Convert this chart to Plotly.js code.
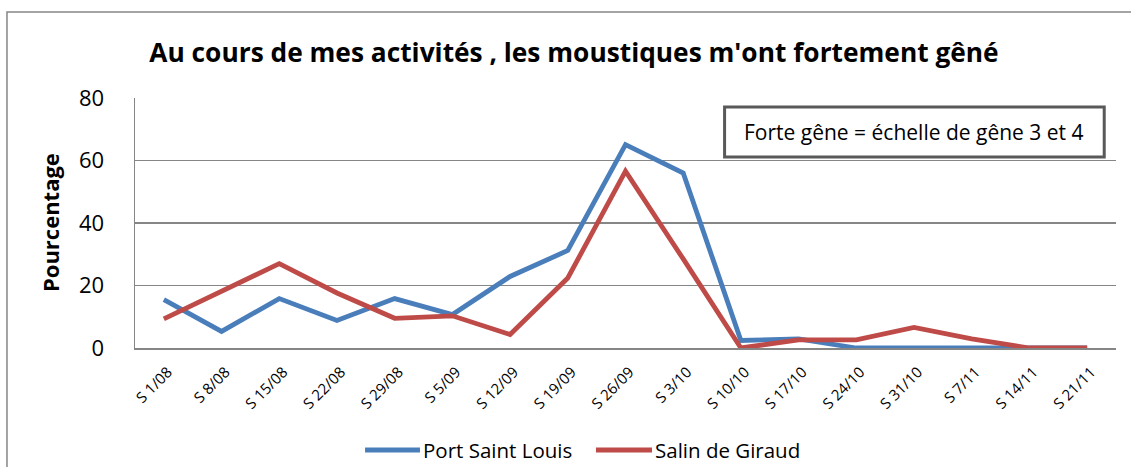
<!DOCTYPE html>
<html>
<head>
<meta charset="utf-8">
<script src="https://cdn.plot.ly/plotly-3.0.1.min.js"></script>
<style>html,body{margin:0;padding:0;background:#fff;}#chart{width:1131px;height:467px;}</style>
</head>
<body>
<div id="chart"></div>
<script>
const weeks = ["S 1/08","S 8/08","S 15/08","S 22/08","S 29/08","S 5/09","S 12/09","S 19/09","S 26/09","S 3/10","S 10/10","S 17/10","S 24/10","S 31/10","S 7/11","S 14/11","S 21/11"];
const portSaintLouis = [15.5, 5.3, 15.8, 8.8, 15.8, 10.7, 22.9, 31.2, 65.1, 56.0, 2.4, 2.9, 0, 0, 0, 0, 0];
const salinDeGiraud = [9.3, 18.0, 27.0, 17.6, 9.5, 10.3, 4.3, 22.4, 56.6, 28.5, 0, 2.6, 2.6, 6.6, 2.9, 0, 0];
const seriesNames = ["Port Saint Louis", "Salin de Giraud"];
const seriesColors = ["#4A7EBB", "#BE4B48"];
const yTicks = [0, 20, 40, 60, 80];

const FONT = "'Open Sans', sans-serif";
const traces = [
  {x: weeks, y: portSaintLouis, name: seriesNames[0], type: "scatter", mode: "lines",
   line: {color: seriesColors[0], width: 4.8}},
  {x: weeks, y: salinDeGiraud, name: seriesNames[1], type: "scatter", mode: "lines",
   line: {color: seriesColors[1], width: 4.8}}
];

// manual legend (line sample + label), positioned in paper coordinates below the plot
const legendY = -0.408;
const legendItems = [
  {x0: 0.2345, x1: 0.2905, tx: 0.2915},
  {x0: 0.4699, x1: 0.5270, tx: 0.5280}
];
const legendShapes = legendItems.map((it, i) => ({
  type: "line", xref: "paper", yref: "paper", x0: it.x0, x1: it.x1, y0: legendY, y1: legendY,
  line: {color: seriesColors[i], width: 5}
}));
const legendLabels = legendItems.map((it, i) => ({
  text: seriesNames[i], xref: "paper", yref: "paper", x: it.tx, y: legendY,
  xanchor: "left", yanchor: "middle", showarrow: false,
  font: {family: FONT, size: 20.5, color: "#000"}
}));

const layout = {
  width: 1131, height: 467,
  margin: {l: 135, r: 15, t: 98, b: 119, autoexpand: false},
  paper_bgcolor: "#fff", plot_bgcolor: "#fff",
  font: {family: FONT, color: "#000"},
  showlegend: false,
  title: {text: "<b>Au cours de mes activités , les moustiques m'ont fortement gêné</b>",
          font: {family: FONT, size: 26.3, color: "#000"},
          x: 0.4475, xanchor: "center", xref: "paper", y: 0.887, yanchor: "middle", yref: "container"},
  xaxis: {type: "category", range: [-0.5, weeks.length - 0.5], tickangle: -45, showgrid: false, zeroline: false,
          showline: true, linecolor: "#868686", linewidth: 1.5, ticks: "", ticklabelstandoff: 8, ticklabelshift: 4,
          tickfont: {family: FONT, size: 15, color: "#000"}, fixedrange: true, automargin: false},
  yaxis: {range: [0, 80], tickvals: yTicks, showgrid: true, gridcolor: "#868686", gridwidth: 1.5,
          zeroline: false, showline: true, linecolor: "#868686", linewidth: 1.5, ticks: "",
          ticklabelstandoff: 25,
          tickfont: {family: FONT, size: 22, color: "#000"}, fixedrange: true, automargin: false},
  shapes: [
    {type: "rect", xref: "paper", yref: "paper", x0: -0.1305, x1: 1.1, y0: -0.6, y1: 1.344,
     line: {color: "#868686", width: 1.5}, fillcolor: "rgba(0,0,0,0)", layer: "below"},
    {type: "rect", xref: "paper", yref: "paper", x0: 0.601, x1: 0.988, y0: 0.764, y1: 0.964,
     line: {color: "#595959", width: 3}, fillcolor: "#fff"}
  ].concat(legendShapes),
  annotations: [
    {text: "Forte gêne = échelle de gêne 3 et 4", xref: "paper", yref: "paper",
     x: 0.7945, y: 0.864, xanchor: "center", yanchor: "middle", showarrow: false,
     font: {family: FONT, size: 21, color: "#000"}},
    {text: "<b>Pourcentage</b>", xref: "paper", yref: "paper", x: -0.0866, y: 0.5,
     xanchor: "center", yanchor: "middle", textangle: -90, showarrow: false,
     font: {family: FONT, size: 22, color: "#000"}}
  ].concat(legendLabels)
};
Plotly.newPlot("chart", traces, layout, {displayModeBar: false, staticPlot: true});
</script>
</body>
</html>
